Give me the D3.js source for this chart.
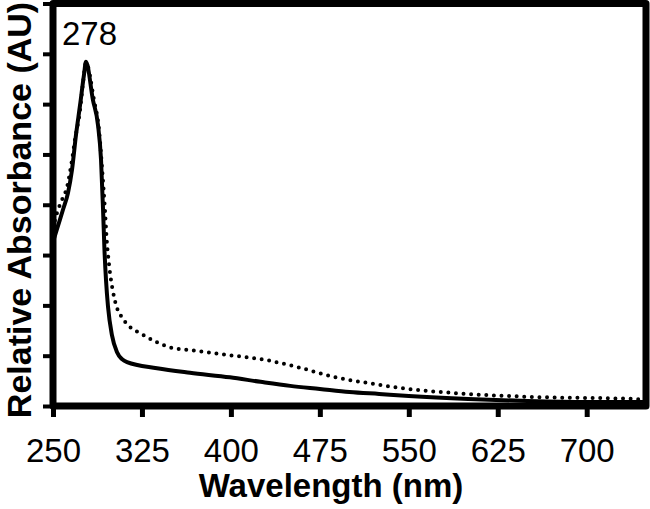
<!DOCTYPE html>
<html lang="en">
<head>
<meta charset="utf-8">
<title>Relative Absorbance</title>
<script src="https://d3js.org/d3.v7.min.js"></script>
<style type="text/css">
  body { margin: 0; background: #fff; }
  #chart text { font-family: Arial, "Liberation Sans", sans-serif; fill: #000; }
</style>
</head>
<body>
<div id="chart"></div>
<script>
// wavelength (nm) / relative absorbance
const solidNm  = [250, 254.2, 258.4, 262.6, 266, 269.4, 272.8, 276.1, 277.8, 283.7, 287.9, 290.5, 292.2, 293.4, 294.7, 296.4, 299.7, 304, 308.2, 312.4, 337.7, 365.5, 399.2, 425, 450, 475, 500, 525, 550, 600, 650, 700, 750];
const solidAbs = [0.326, 0.358, 0.390, 0.423, 0.469, 0.539, 0.598, 0.658, 0.684, 0.608, 0.559, 0.489, 0.390, 0.310, 0.250, 0.197, 0.141, 0.107, 0.093, 0.087, 0.075, 0.066, 0.057, 0.048, 0.040, 0.034, 0.028, 0.024, 0.020, 0.014, 0.010, 0.008, 0.008];

const dottedNm  = [250, 253.4, 257.6, 261.8, 266, 268.5, 272.8, 275.3, 277.8, 284.6, 288.8, 291.3, 293.8, 295.3, 296.6, 298.1, 300.3, 303.7, 307.9, 314.9, 323.4, 337.4, 351.2, 365.5, 379.6, 399.2, 430.4, 458.3, 486.1, 514.8, 542.6, 599.1, 654.7, 739, 750];
const dottedAbs = [0.354, 0.384, 0.410, 0.435, 0.489, 0.529, 0.588, 0.642, 0.682, 0.608, 0.549, 0.475, 0.390, 0.330, 0.296, 0.264, 0.231, 0.197, 0.177, 0.157, 0.145, 0.127, 0.115, 0.111, 0.107, 0.101, 0.091, 0.076, 0.058, 0.046, 0.036, 0.024, 0.018, 0.014, 0.012];

const xTicks = [250, 325, 400, 475, 550, 625, 700];
const yTicks = [0, 0.1, 0.2, 0.3, 0.4, 0.5, 0.6, 0.7, 0.8];
const peakLabel = "278";

const W = 650, H = 509;
const mLeft = 53, mRight = 646, mTop = 3.5, mBottom = 406;

const svg = d3.select("#chart").append("svg")
  .attr("width", W)
  .attr("height", H);

const x = d3.scaleLinear().domain([250, 750]).range([mLeft, mRight]);
const y = d3.scaleLinear().domain([0, 0.8]).range([mBottom, mTop]);

const line = d3.line()
  .x(d => x(d[0]))
  .y(d => y(d[1]))
  .curve(d3.curveMonotoneX);

svg.append("path")
  .datum(dottedNm.map((v, i) => [v, dottedAbs[i]]))
  .attr("d", line)
  .attr("fill", "none")
  .attr("stroke", "#000")
  .attr("stroke-width", 4)
  .attr("stroke-linecap", "round")
  .attr("stroke-dasharray", "0 7.6");

svg.append("path")
  .datum(solidNm.map((v, i) => [v, solidAbs[i]]))
  .attr("d", line)
  .attr("fill", "none")
  .attr("stroke", "#000")
  .attr("stroke-width", 4)
  .attr("stroke-linejoin", "round");

// ticks
const xAxis = svg.append("g")
  .attr("transform", `translate(0,${mBottom})`)
  .call(d3.axisBottom(x).tickValues(xTicks).tickSize(11).tickFormat(d3.format("d")));
xAxis.select(".domain").remove();
xAxis.selectAll(".tick line").attr("stroke", "#000").attr("stroke-width", 5);
xAxis.selectAll(".tick text")
  .attr("y", 56)
  .attr("dy", null)
  .style("font-size", "33px");

const yAxis = svg.append("g")
  .attr("transform", `translate(${mLeft},0)`)
  .call(d3.axisLeft(y).tickValues(yTicks).tickSize(10).tickFormat(""));
yAxis.select(".domain").remove();
yAxis.selectAll(".tick line").attr("stroke", "#000").attr("stroke-width", 4);

// frame
svg.append("rect")
  .attr("x", mLeft)
  .attr("y", mTop)
  .attr("width", mRight - mLeft)
  .attr("height", mBottom - mTop)
  .attr("fill", "none")
  .attr("stroke", "#000")
  .attr("stroke-width", 7)
  .attr("stroke-linejoin", "round");

svg.append("text")
  .attr("x", 62)
  .attr("y", 45)
  .style("font-size", "33px")
  .text(peakLabel);

svg.append("text")
  .attr("x", 331)
  .attr("y", 497)
  .attr("text-anchor", "middle")
  .style("font-size", "33px")
  .style("font-weight", "bold")
  .text("Wavelength (nm)");

svg.append("text")
  .attr("transform", "translate(31,210) rotate(-90)")
  .attr("text-anchor", "middle")
  .style("font-size", "34px")
  .style("font-weight", "bold")
  .text("Relative Absorbance (AU)");
</script>
</body>
</html>
